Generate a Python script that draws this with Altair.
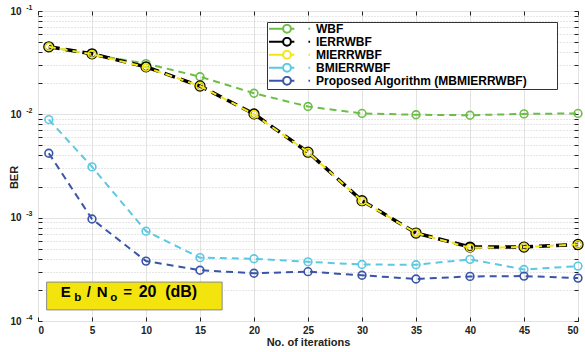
import altair as alt
import pandas as pd

iters = [1, 5, 10, 15, 20, 25, 30, 35, 40, 45, 50]
wbf = [0.045, 0.038, 0.031, 0.0231, 0.0160, 0.0119, 0.0102, 0.0099, 0.0098, 0.0101, 0.0102]
ierr = [0.045, 0.0385, 0.0288, 0.0188, 0.0101, 0.0043, 0.00146, 0.00071, 0.00052, 0.00052, 0.00055]
mierr = [0.045, 0.0382, 0.0285, 0.0188, 0.0100, 0.0043, 0.00145, 0.00071, 0.00051, 0.00052, 0.00055]
bmierr = [0.0089, 0.0031, 0.00074, 0.00041, 0.00040, 0.000374, 0.000352, 0.00035, 0.000395, 0.000315, 0.00034]
prop = [0.0042, 0.00097, 0.00038, 0.00031, 0.00029, 0.00030, 0.000277, 0.000255, 0.00027, 0.000272, 0.00026]

names = ["WBF", "IERRWBF", "MIERRWBF", "BMIERRWBF", "Proposed Algorithm (MBMIERRWBF)"]
colors = ["#6CBE45", "#000000", "#F5E60F", "#5CC8E2", "#3A55A8"]
widths = [2, 3.5, 2, 2, 2]
dashes = [[7, 5], [11, 6], [7, 5], [7, 5], [7, 5]]
msizes = [60, 75, 55, 60, 60]
mwidths = [1.6, 2.6, 1.6, 1.6, 1.6]

x_ticks = [0, 5, 10, 15, 20, 25, 30, 35, 40, 45, 50]
y_major = [0.1, 0.01, 0.001, 0.0001]
y_all = sorted({round(m * 10 ** k, 10) for k in (-4, -3, -2) for m in range(1, 10)} | {0.1})

series_vals = [wbf, ierr, mierr, bmierr, prop]
rows = []
for n, vals in zip(names, series_vals):
    for it, v in zip(iters, vals):
        rows.append({"iter": it, "ber": v, "series": n})
df = pd.DataFrame(rows)

FONT = "Liberation Sans"
xscale = alt.Scale(domain=[0, 50], nice=False, zero=False)
yscale = alt.Scale(type="log", domain=[0.0001, 0.1], nice=False)

sym = ("M-7.3,0H-1.3M1.3,0H2.45M7.15,0H7.7"
       "M-1.3,0A1.3,1.3 0 1,0 1.3,0A1.3,1.3 0 1,0 -1.3,0")
PAD = "\u2800" * 3
legend = alt.Legend(
    title=None, orient="none", legendX=229, legendY=11,
    symbolType=sym, symbolSize=36, symbolStrokeWidth=2, symbolFillColor="transparent",
    symbolOffset=12, labelOffset=23, clipHeight=9.5,
    labelFont=FONT, labelFontSize=12, labelFontWeight="bold", labelColor="#000",
    labelLimit=400, labelExpr=f"datum.label + '{PAD}'",
    fillColor="white", strokeColor="#333", padding=2, rowPadding=0,
)
color = alt.Color("series:N", scale=alt.Scale(domain=names, range=colors), legend=legend)

major_test = "indexof([0.1,0.01,0.001,0.0001], datum.value) >= 0"

axes_main = alt.Chart(df).mark_point(opacity=0).encode(
    x=alt.X("iter:Q", scale=xscale, axis=alt.Axis(
        orient="bottom", values=x_ticks, title="No. of iterations", labelFont=FONT,
        labelFontSize=10, labelFontWeight="bold", labelColor="#222", titleFont=FONT,
        titleFontSize=11, titleFontWeight="bold", titleColor="#222", titlePadding=1,
        labelPadding=4, tickSize=0, domain=False, grid=True, gridColor="#e2e2e2",
        gridWidth=1)),
    y=alt.Y("ber:Q", scale=yscale, axis=alt.Axis(
        orient="left", values=y_all, title="BER", labelExpr=f"{major_test} ? '10' : ''",
        labelFont=FONT, labelFontSize=10, labelFontWeight="bold", labelColor="#222",
        labelPadding=17, labelOverlap=False, titleFont=FONT, titleFontSize=11,
        titleFontWeight="bold", titleColor="#222", titleX=-24, titleY=166,
        titleAngle=-90, titleAlign="center", titleBaseline="middle",
        tickSize=0, domain=False, grid=True,
        gridColor={"condition": {"test": major_test, "value": "#e2e2e2"}, "value": "#cccccc"},
        gridDash={"condition": {"test": major_test, "value": []}, "value": [1, 2]})),
)

exp_expr = ("datum.value == 0.1 ? '-1' : datum.value == 0.01 ? '-2' : "
            "datum.value == 0.001 ? '-3' : datum.value == 0.0001 ? '-4' : ''")
axes_exp = alt.Chart(df).mark_point(opacity=0).encode(
    y=alt.Y("ber:Q", scale=yscale, axis=alt.Axis(
        orient="left", values=y_major, title=None, labelExpr=exp_expr, labelFont=FONT,
        labelFontSize=7, labelFontWeight="bold", labelColor="#222", labelPadding=6,
        labelOffset=-4, labelOverlap=False, tickSize=0, domain=False, grid=False)),
)


def tick_layer(xorient, yorient):
    return alt.Chart(df).mark_point(opacity=0).encode(
        x=alt.X("iter:Q", scale=xscale, axis=alt.Axis(
            orient=xorient, values=x_ticks, title=None, labels=False, domain=False,
            grid=False, tickSize=4, offset=-4, tickColor="#222")),
        y=alt.Y("ber:Q", scale=yscale, axis=alt.Axis(
            orient=yorient, values=y_all, title=None, labels=False, domain=False,
            grid=False, tickSize=4, offset=-4, tickColor="#222")),
    )


layers = [axes_main, axes_exp, tick_layer("bottom", "left"), tick_layer("top", "right")]

for i, n in enumerate(names):
    base = alt.Chart(df).transform_filter(alt.datum.series == n)
    line = base.mark_line(strokeWidth=widths[i], strokeDash=dashes[i]).encode(
        x=alt.X("iter:Q", scale=xscale, axis=None),
        y=alt.Y("ber:Q", scale=yscale, axis=None),
        color=color,
    )
    pts = base.mark_point(shape="circle", filled=False, size=msizes[i],
                          strokeWidth=mwidths[i], opacity=1).encode(
        x=alt.X("iter:Q", scale=xscale, axis=None),
        y=alt.Y("ber:Q", scale=yscale, axis=None),
        color=color,
    )
    layers += [line, pts]

# annotation box
box_df = pd.DataFrame({"bx1": [0.8], "bx2": [17.05], "by1": [0.000128], "by2": [0.000238]})
box = alt.Chart(box_df).mark_rect(fill="#F4E40E", stroke="#8a8a8a", strokeWidth=1).encode(
    x=alt.X("bx1:Q", scale=xscale, axis=None), x2="bx2:Q",
    y=alt.Y("by1:Q", scale=yscale, axis=None), y2="by2:Q",
)
layers.append(box)

anchor = pd.DataFrame({"ax": [2.1], "ay": [0.0001703]})
pieces = [("E", 0, 0, 15), ("b", 13.5, 4, 11.5), ("/", 26, 0, 15), ("N", 36, 0, 15),
          ("o", 49.5, 4, 11.5), ("=", 62.5, 0, 15), ("20", 78, 0, 16), ("(dB)", 104.5, 0, 16)]
for txt, dx, dy, fs in pieces:
    layers.append(alt.Chart(anchor).mark_text(
        text=txt, dx=dx, dy=dy, align="left", baseline="alphabetic", font=FONT,
        fontSize=fs, fontWeight="bold", color="#000").encode(
        x=alt.X("ax:Q", scale=xscale, axis=None),
        y=alt.Y("ay:Q", scale=yscale, axis=None),
    ))

chart = alt.layer(*layers).resolve_axis(x="independent", y="independent").properties(
    width=540, height=310,
    padding={"left": 38, "top": 11, "right": 7, "bottom": 31},
    autosize=alt.AutoSizeParams(type="none"),
    background="white",
).configure_view(stroke="#222", strokeWidth=1)

chart.save("out.html", embed_options={"renderer": "svg", "actions": False})
